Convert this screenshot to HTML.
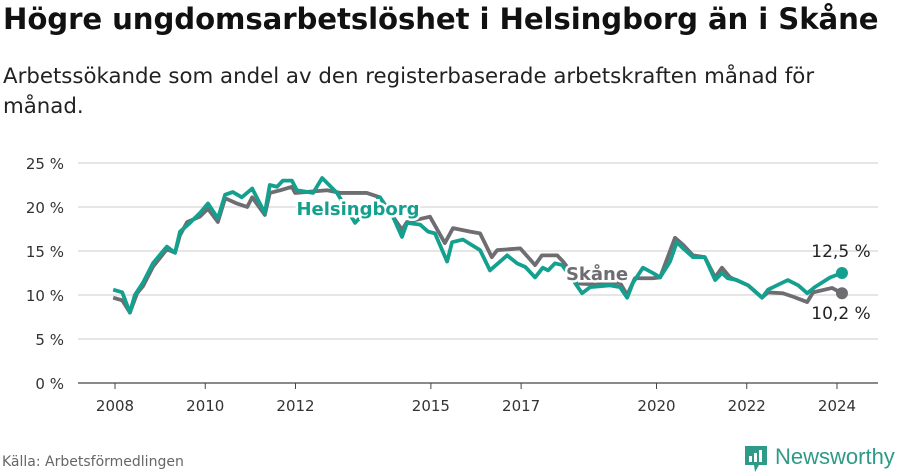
<!DOCTYPE html>
<html><head><meta charset="utf-8"><style>
body{margin:0;width:900px;height:474px;background:#fff;font-family:"DejaVu Sans","Liberation Sans",sans-serif;overflow:hidden;position:relative;color:#111}
#title{position:absolute;left:3px;top:2px;font-size:29.2px;font-weight:bold;letter-spacing:-0.1px;white-space:nowrap}
#sub{position:absolute;left:3px;top:62px;font-size:21.3px;line-height:30px;width:830px;color:#222}
#src{position:absolute;left:2px;top:454px;font-size:14px;color:#666}
#logo{position:absolute;left:745px;top:444px}
</style></head><body>
<div id="title">Högre ungdomsarbetslöshet i Helsingborg än i Skåne</div>
<div id="sub">Arbetssökande som andel av den registerbaserade arbetskraften månad för månad.</div>
<svg id="chart" width="900" height="474" style="position:absolute;left:0;top:0"></svg>
<div id="src">Källa: Arbetsförmedlingen</div>
<svg id="logo" width="155" height="30">
<path d="M0 2h22v19h-8l-4 7-1-7H0z" fill="#2e9a87"/>
<rect x="4" y="12" width="3" height="6" fill="#fff"/><rect x="9" y="9" width="3" height="9" fill="#fff"/><rect x="14" y="6" width="3" height="12" fill="#fff"/>
<text x="30" y="20" font-family="Liberation Sans, sans-serif" font-size="22" fill="#2e9a87">Newsworthy</text>
</svg>
<script>
const yTicks=[0,5,10,15,20,25];
const xTicks=[2008,2010,2012,2015,2017,2020,2022,2024];
const hbgT=[2007.96,2008.16,2008.33,2008.44,2008.62,2008.84,2009.15,2009.33,2009.44,2009.62,2009.88,2010.06,2010.28,2010.44,2010.61,2010.81,2011.04,2011.32,2011.43,2011.59,2011.72,2011.92,2012.03,2012.39,2012.59,2012.92,2013.32,2013.87,2014.16,2014.36,2014.47,2014.76,2014.94,2015.09,2015.36,2015.47,2015.71,2016.09,2016.31,2016.69,2016.91,2017.09,2017.31,2017.48,2017.60,2017.75,2017.91,2018.19,2018.35,2018.53,2018.97,2019.19,2019.35,2019.48,2019.70,2019.92,2020.08,2020.30,2020.45,2020.59,2020.81,2021.07,2021.30,2021.45,2021.58,2021.78,2022.03,2022.34,2022.47,2022.67,2022.91,2023.14,2023.34,2023.51,2023.85,2024.11];
const hbgV=[10.6,10.3,8.0,10.0,11.4,13.6,15.5,14.8,17.2,18.0,19.3,20.4,18.7,21.4,21.7,21.1,22.1,19.3,22.5,22.3,23.0,23.0,21.9,21.6,23.3,21.6,18.2,21.1,18.9,16.6,18.2,18.0,17.2,17.0,13.8,16.0,16.3,15.1,12.8,14.5,13.6,13.2,12.0,13.1,12.8,13.6,13.4,11.4,10.2,10.9,11.1,10.9,9.7,11.4,13.1,12.5,12.0,13.8,16.0,15.3,14.3,14.3,11.7,12.5,11.9,11.7,11.1,9.7,10.6,11.1,11.7,11.1,10.2,10.9,12.0,12.5];
const skT=[2007.96,2008.16,2008.33,2008.49,2008.62,2008.84,2009.15,2009.33,2009.44,2009.60,2009.88,2010.06,2010.28,2010.44,2010.70,2010.93,2011.04,2011.32,2011.43,2011.66,2011.92,2011.99,2012.70,2012.99,2013.58,2013.87,2014.16,2014.36,2014.47,2014.98,2015.31,2015.49,2015.87,2016.09,2016.35,2016.47,2016.98,2017.31,2017.46,2017.80,2017.93,2018.3,2018.7,2019.19,2019.35,2019.52,2019.92,2020.08,2020.41,2020.59,2020.81,2021.07,2021.30,2021.45,2021.63,2022.03,2022.34,2022.47,2022.80,2023.03,2023.34,2023.47,2023.89,2024.11];
const skV=[9.7,9.4,8.0,10.2,11.0,13.2,15.2,14.8,16.8,18.3,18.9,19.8,18.3,21.0,20.4,20.0,21.1,19.1,21.6,21.9,22.3,21.6,21.9,21.6,21.6,21.1,18.9,17.4,18.3,18.9,15.9,17.6,17.2,17.0,14.3,15.1,15.3,13.4,14.5,14.5,13.8,11.3,11.2,11.4,10.0,11.9,11.9,12.0,16.5,15.7,14.5,14.3,12.0,13.1,12.0,11.1,9.7,10.3,10.2,9.8,9.2,10.3,10.8,10.2];
const X=t=>115+(t-2008)*45.125, Y=v=>383-8.8*v;
const svg=document.getElementById('chart'),NS='http://www.w3.org/2000/svg';
function mk(tag,at,txt){const e=document.createElementNS(NS,tag);for(const k in at)e.setAttribute(k,at[k]);if(txt!=null)e.textContent=txt;svg.appendChild(e);return e;}
yTicks.forEach(v=>{
 const l=mk('line',{x1:78,x2:878,y1:Y(v),y2:Y(v),stroke:v?'#ddd':'#444','stroke-width':v?1.5:1.3});
 
 
 const t=mk('text',{x:64,y:Y(v)+6,'text-anchor':'end','font-size':15,fill:'#333'},v+' %');
 
 
});
xTicks.forEach(y=>{
 const l=mk('line',{x1:X(y),x2:X(y),y1:383,y2:389,stroke:'#444'});
 
 
 const t=mk('text',{x:X(y),y:411,'text-anchor':'middle','font-size':15,fill:'#333'},y);
 
 
});
function line(T,V,c,name){
 const p=mk('polyline',{points:T.map((t,i)=>X(t)+','+Y(V[i])).join(' '),fill:'none',stroke:c,'stroke-width':3.8,'stroke-linejoin':'round'});
 
 
 const d=mk('circle',{cx:X(T[T.length-1]),cy:Y(V[V.length-1]),r:6,fill:c});
 
 
}
line(skT,skV,'#6d6d72','skane-line');
line(hbgT,hbgV,'#14a08f','helsingborg-line');
const lh=mk('text',{x:358,y:215,'text-anchor':'middle','font-size':18,'font-weight':'bold',fill:'#14a08f',stroke:'#fff','stroke-width':5,'paint-order':'stroke'},'Helsingborg');


const ls=mk('text',{x:597,y:280,'text-anchor':'middle','font-size':18,'font-weight':'bold',fill:'#6d6d72',stroke:'#fff','stroke-width':5,'paint-order':'stroke'},'Skåne');


const vh=mk('text',{x:841,y:257,'text-anchor':'middle','font-size':17,fill:'#222'},String(hbgV[hbgV.length-1]).replace('.',',')+' %');


const vs=mk('text',{x:841,y:319,'text-anchor':'middle','font-size':17,fill:'#222'},String(skV[skV.length-1]).replace('.',',')+' %');


</script>
</body></html>
